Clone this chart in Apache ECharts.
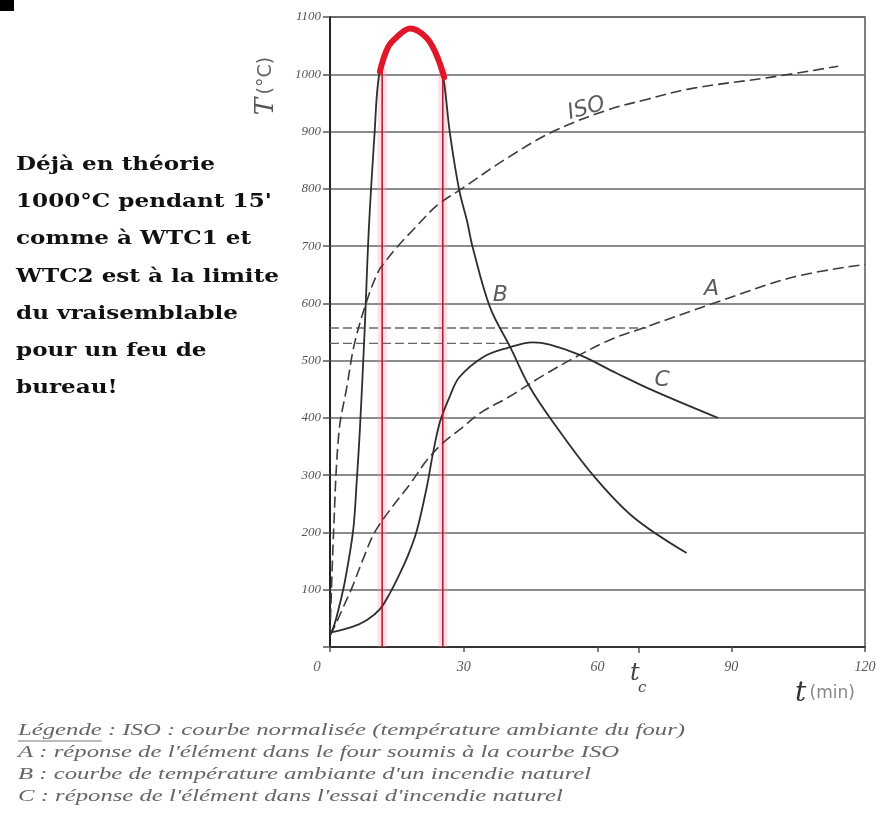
<!DOCTYPE html>
<html><head><meta charset="utf-8">
<script src="https://cdn.jsdelivr.net/npm/echarts@6/dist/echarts.min.js"></script>
<style>html,body{margin:0;padding:0;background:#fff;}#c{width:883px;height:822px;}</style>
</head><body><div id="c"></div>
<script>
// ---- data (t in minutes, T in °C) ----
const isoCurve = [[0,20],[0.8,200],[2,375],[3.8,455],[5.5,530],[8.5,610],[11,658],[12.8,677],[15,698],[18.6,728],[24,771],[29.5,800],[40,855],[50,900],[62,937],[71,956],[81,975],[99,995],[114,1014]];
const curveA = [[0,20],[1,35],[3,70],[5,105],[7.5,155],[10,200],[14,245],[18,285],[21.7,326],[25.3,356],[29,379],[34,410],[40,436],[48,475],[56,510],[63,537],[71,559],[86,600],[104,646],[120,668]];
const curveB = [[0,20],[1.1,42],[2.2,75],[3.4,117],[5.2,204],[6,290],[6.7,379],[7.8,558],[8.7,728],[10,897],[11,998],[13,1047],[15,1065],[18,1080],[21.5,1065],[23.7,1037],[25.3,1000],[26.9,897],[29,797],[30.7,745],[32,698],[35.9,593],[40.4,524],[44.8,454],[50,393],[59,300],[68,227],[80,164]];
const curveC = [[0,25],[5,35],[8.3,47],[11.2,66],[13.5,95],[15.7,129],[17.5,160],[19.5,204],[21.7,279],[23.1,338],[24.7,394],[27,440],[29,471],[34.3,506],[39.7,522],[45.5,532],[49.3,528],[56,510],[64.3,478],[72.4,448],[87,400]];
const redPeak = [[11.2,1005],[13,1047],[15,1065],[18,1080],[21.5,1065],[23.7,1037],[25.6,995]];
const redTimes = [11.7, 25.3];
const redTop = 1010;
const criticalLevels = [[557, 71], [530, 40]]; // [T, t end]
const tc = 69.3;
const xTicks = [0, 30, 60, 90, 120];
const yTicks = [0,100,200,300,400,500,600,700,800,900,1000,1100];
const curveLabels = [
  {name:'ISO', t:57.5, T:940, rotate:16},
  {name:'B', t:38.2, T:614, rotate:0},
  {name:'A', t:85.6, T:625, rotate:0},
  {name:'C', t:74.5, T:466, rotate:0}
];
const noteLines = ["Déjà en théorie","1000°C pendant 15'","comme à WTC1 et","WTC2 est à la limite","du vraisemblable","pour un feu de","bureau!"];
const legendLines = ["Légende : ISO : courbe normalisée (température ambiante du four)","A : réponse de l'élément dans le four soumis à la courbe ISO","B : courbe de température ambiante d'un incendie naturel","C : réponse de l'élément dans l'essai d'incendie naturel"];

// ---- chart ----
const chart = echarts.init(document.getElementById('c'));
const ink = '#2e2e2e';
const series = [
  {name:'ISO', type:'line', data:isoCurve, smooth:0.35, showSymbol:false, lineStyle:{color:'#3c3c3c', width:1.6, type:[11,5]}, z:3},
  {name:'A', type:'line', data:curveA, smooth:0.35, showSymbol:false, lineStyle:{color:'#3c3c3c', width:1.6, type:[11,5]}, z:3},
  {name:'B', type:'line', data:curveB, smooth:0.35, showSymbol:false, lineStyle:{color:ink, width:1.8}, z:3},
  {name:'C', type:'line', data:curveC, smooth:0.35, showSymbol:false, lineStyle:{color:ink, width:1.8}, z:3}
];
redTimes.forEach(t => {
  series.push({type:'line', data:[[t,0],[t,redTop]], showSymbol:false, lineStyle:{color:'rgba(255,150,170,0.3)', width:9}, z:1});
  series.push({type:'line', data:[[t,0],[t,redTop]], showSymbol:false, lineStyle:{color:'#b0122e', width:1.5}, z:4});
});
criticalLevels.forEach(([T, tEnd]) => {
  series.push({type:'line', data:[[0,T],[tEnd,T]], showSymbol:false, lineStyle:{color:'#666', width:1.3, type:[9,4]}, z:2});
});
series.push({type:'line', data:redPeak, smooth:0.4, showSymbol:false, lineStyle:{color:'#e0162a', width:6, cap:'round'}, z:6});
series.push({type:'scatter', symbolSize:1, itemStyle:{color:'rgba(0,0,0,0)'}, z:7,
  data: curveLabels.map(l => ({value:[l.t, l.T], name:l.name, label:{rotate:l.rotate}})),
  label:{show:true, position:'inside', formatter:p=>p.name, fontFamily:'DejaVu Sans', fontStyle:'italic', fontSize:22, color:'#333'}
});

chart.setOption({
  animation:false,
  backgroundColor:'#ffffff',
  grid:{left:330, right:18, top:17, bottom:175, show:true, borderColor:'#555', borderWidth:1.5},
  xAxis:{type:'value', min:xTicks[0], max:xTicks[xTicks.length-1], interval:30,
    axisLine:{lineStyle:{color:'#333', width:2}},
    axisTick:{show:true, inside:false, length:5, lineStyle:{color:'#555', width:1.5}},
    splitLine:{show:false},
    axisLabel:{margin:13, fontFamily:'Liberation Serif', fontStyle:'italic', fontSize:14, color:'#555',
      formatter:v => v===0 ? '{z|0}' : String(v), rich:{z:{padding:[0,26,0,0], fontFamily:'Liberation Serif', fontStyle:'italic', fontSize:15, color:'#666'}}}
  },
  yAxis:{type:'value', min:yTicks[0], max:yTicks[yTicks.length-1], interval:100,
    axisLine:{show:true, lineStyle:{color:'#222', width:2}},
    axisTick:{show:true, length:7, lineStyle:{color:'#555', width:1.5}},
    splitLine:{show:true, lineStyle:{color:'#666', width:1.5}},
    axisLabel:{margin:9, fontFamily:'Liberation Serif', fontStyle:'italic', fontSize:13, color:'#555',
      formatter:v => v===0 ? '' : String(v)}
  },
  series
});

// ---- annotations ----
const meas = document.createElement('canvas').getContext('2d');
function width(text, font){ meas.font = font; return meas.measureText(text).width; }
const noteFont = 'bold 19px "DejaVu Serif"';
const noteScale = 263 / width(noteLines[3], noteFont);
const legFont = 'italic 17px "Liberation Serif"';
const legScale = 667 / width(legendLines[0], legFont);
const graphics = [];
graphics.push({type:'rect', shape:{x:0,y:0,width:14,height:11}, style:{fill:'#000'}});
noteLines.forEach((s,i) => graphics.push({type:'text', x:16, y:165 + i*37.2, scaleX:noteScale,
  style:{text:s, font:noteFont, fill:'#111', textVerticalAlign:'middle'}}));
legendLines.forEach((s,i) => graphics.push({type:'text', x:18, y:731 + i*22, scaleX:legScale,
  style:{text:s, font:legFont, fill:'#666', textVerticalAlign:'middle'}}));
const legW = width('Légende', legFont) * legScale;
graphics.push({type:'line', shape:{x1:18, y1:741, x2:18+legW, y2:741}, style:{stroke:'#777', lineWidth:1}});
// axis titles
graphics.push({type:'text', x:266, y:86, rotation:Math.PI/2,
  style:{text:'{a|T} {b|(°C)}', textAlign:'center', textVerticalAlign:'middle',
    rich:{a:{fontFamily:'DejaVu Serif', fontStyle:'italic', fontSize:26, fill:'#555'}, b:{fontFamily:'DejaVu Sans', fontSize:19, fill:'#666'}}}});
graphics.push({type:'text', x:795, y:694,
  style:{text:'{a|t} {b|(min)}', textVerticalAlign:'middle',
    rich:{a:{fontFamily:'DejaVu Serif', fontStyle:'italic', fontSize:28, fill:'#333'}, b:{fontFamily:'DejaVu Sans', fontSize:17, fill:'#888'}}}});
// t_c
const pc = chart.convertToPixel({gridIndex:0}, [tc, 0]);
graphics.push({type:'line', shape:{x1:pc[0], y1:pc[1], x2:pc[0], y2:pc[1]+6}, style:{stroke:'#555', lineWidth:1.5}});
graphics.push({type:'text', x:pc[0]-9, y:pc[1]+15, style:{text:'t', fontFamily:'DejaVu Serif', fontStyle:'italic', fontSize:24, fill:'#444'}});
graphics.push({type:'text', x:pc[0]-1, y:pc[1]+34, style:{text:'c', fontFamily:'DejaVu Serif', fontStyle:'italic', fontSize:15, fill:'#444'}});
chart.setOption({graphic:graphics});
</script></body></html>
